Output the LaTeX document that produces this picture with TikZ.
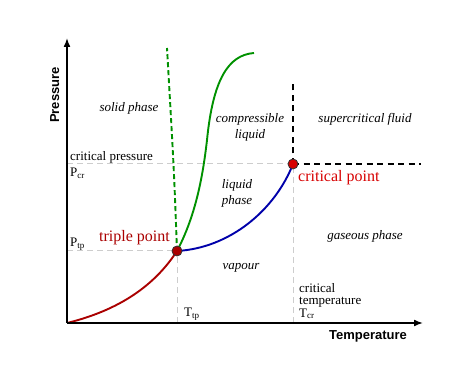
\documentclass[tikz,border=0pt]{standalone}
\usepackage{fontspec}
\setmainfont{Liberation Serif}
\setsansfont{Liberation Sans}
\usepackage{tikz}
\usetikzlibrary{arrows.meta}
\definecolor{darkred}{RGB}{170,0,0}
\definecolor{pointred}{RGB}{215,0,0}
\definecolor{linegreen}{RGB}{0,145,0}
\definecolor{lineblue}{RGB}{0,0,170}
\definecolor{guidegray}{RGB}{205,205,205}
\newcommand{\lowsub}[1]{\raisebox{-0.12em}{\fontsize{9}{9}\selectfont #1}}
\tikzset{
  axis/.style={line width=1.6pt,-{Latex[length=9pt,width=7pt]}},
  guide/.style={guidegray,line width=1pt,dash pattern=on 6pt off 4pt},
  border/.style={line width=1.6pt,dash pattern=on 6pt off 4.5pt},
  curve/.style={line width=1.9pt},
  point/.style={circle,draw=black!80,line width=0.8pt,minimum size=10pt,inner sep=0pt},
  region/.style={font=\fontsize{13}{16}\selectfont\itshape,align=center,inner sep=0pt},
  lbl/.style={font=\fontsize{13}{12.5}\selectfont,align=left,inner sep=0pt},
  redlbl/.style={font=\fontsize{16}{18}\selectfont,inner sep=0pt},
  axislabel/.style={font=\fontsize{13}{15}\selectfont\sffamily\bfseries,inner sep=0pt}
}

\begin{document}
\begin{tikzpicture}[x=1pt,y=-1pt]
            \useasboundingbox (0,0) rectangle (474,379);
            \coordinate (o) at (67,323);
            \coordinate (ytop) at (67,38);
            \coordinate (xend) at (423,323);
            \coordinate (tpc) at (177,251);
            \coordinate (cpc) at (293,164);
            \coordinate (pcr) at (67,164);
            \coordinate (ptp) at (67,251);
            \coordinate (ttp) at (177,323);
            \coordinate (tcr) at (293,323);
            \coordinate (sctop) at (293,84);
            \coordinate (scend) at (421,164);
            \coordinate (meltend) at (167,48);
            \coordinate (anomend) at (254,53);

            % guide lines
            \foreach \from/\to in {pcr/cpc, ptp/tpc, ttp/tpc, tcr/cpc}
              \draw[guide] (\from) -- (\to);
            \draw[border] (cpc) -- (sctop);
            \draw[border] (cpc) -- (scend);

            % phase boundaries
            \draw[curve,darkred] (o) .. controls (120,310) and (155,285) .. (tpc);
            \draw[curve,lineblue] (tpc) .. controls (230,248) and (275,210) .. (cpc);
            \draw[curve,linegreen,dash pattern=on 5pt off 3pt] (tpc) .. controls (174,170) .. (meltend);
            \draw[curve,linegreen] (tpc) .. controls (196,215) and (203,175) .. (207,140)
              .. controls (213,80) and (228,55) .. (anomend);

            \draw[axis] (o) -- (ytop);
            \draw[axis] (o) -- (xend);

            \node[point,fill=darkred] (tp) at (tpc) {};
            \node[point,fill=pointred] (cp) at (cpc) {};

            % labels
            \node[axislabel,rotate=90,anchor=base] (plabel) at (59,95) {Pressure};
            \node[axislabel,anchor=base] (tlabel) at (368,340) {Temperature};
            \node[region,anchor=base] (solid) at (129,112) {solid phase};
            \node[region] (comp) at (250,127) {compressible\\liquid};
            \node[region,anchor=base] (superc) at (365,123) {supercritical fluid};
            \node[region] (liquid) at (237,193) {liquid\\phase};
            \node[region,anchor=base] (gas) at (365,240) {gaseous phase};
            \node[region,anchor=base] (vapour) at (241,270) {vapour};
            \node[lbl,anchor=base west] (pcrit) at (70,161) {critical pressure};
            \node[lbl,anchor=base west] (pcrsym) at (70,177) {P\lowsub{cr}};
            \node[lbl,anchor=base west] (ptpsym) at (70,247) {P\lowsub{tp}};
            \node[lbl,anchor=base west] (ttpsym) at (184,317) {T\lowsub{tp}};
            \node[lbl,anchor=north west] (tcrit) at (299,283) {critical\\temperature\\T\lowsub{cr}};
            \node[redlbl,anchor=base west,text=pointred] (cplabel) at (298,182) {critical point};
            \node[redlbl,anchor=base east,text=darkred] (tplabel) at (170,242) {triple point};
        \end{tikzpicture}
\end{document}
